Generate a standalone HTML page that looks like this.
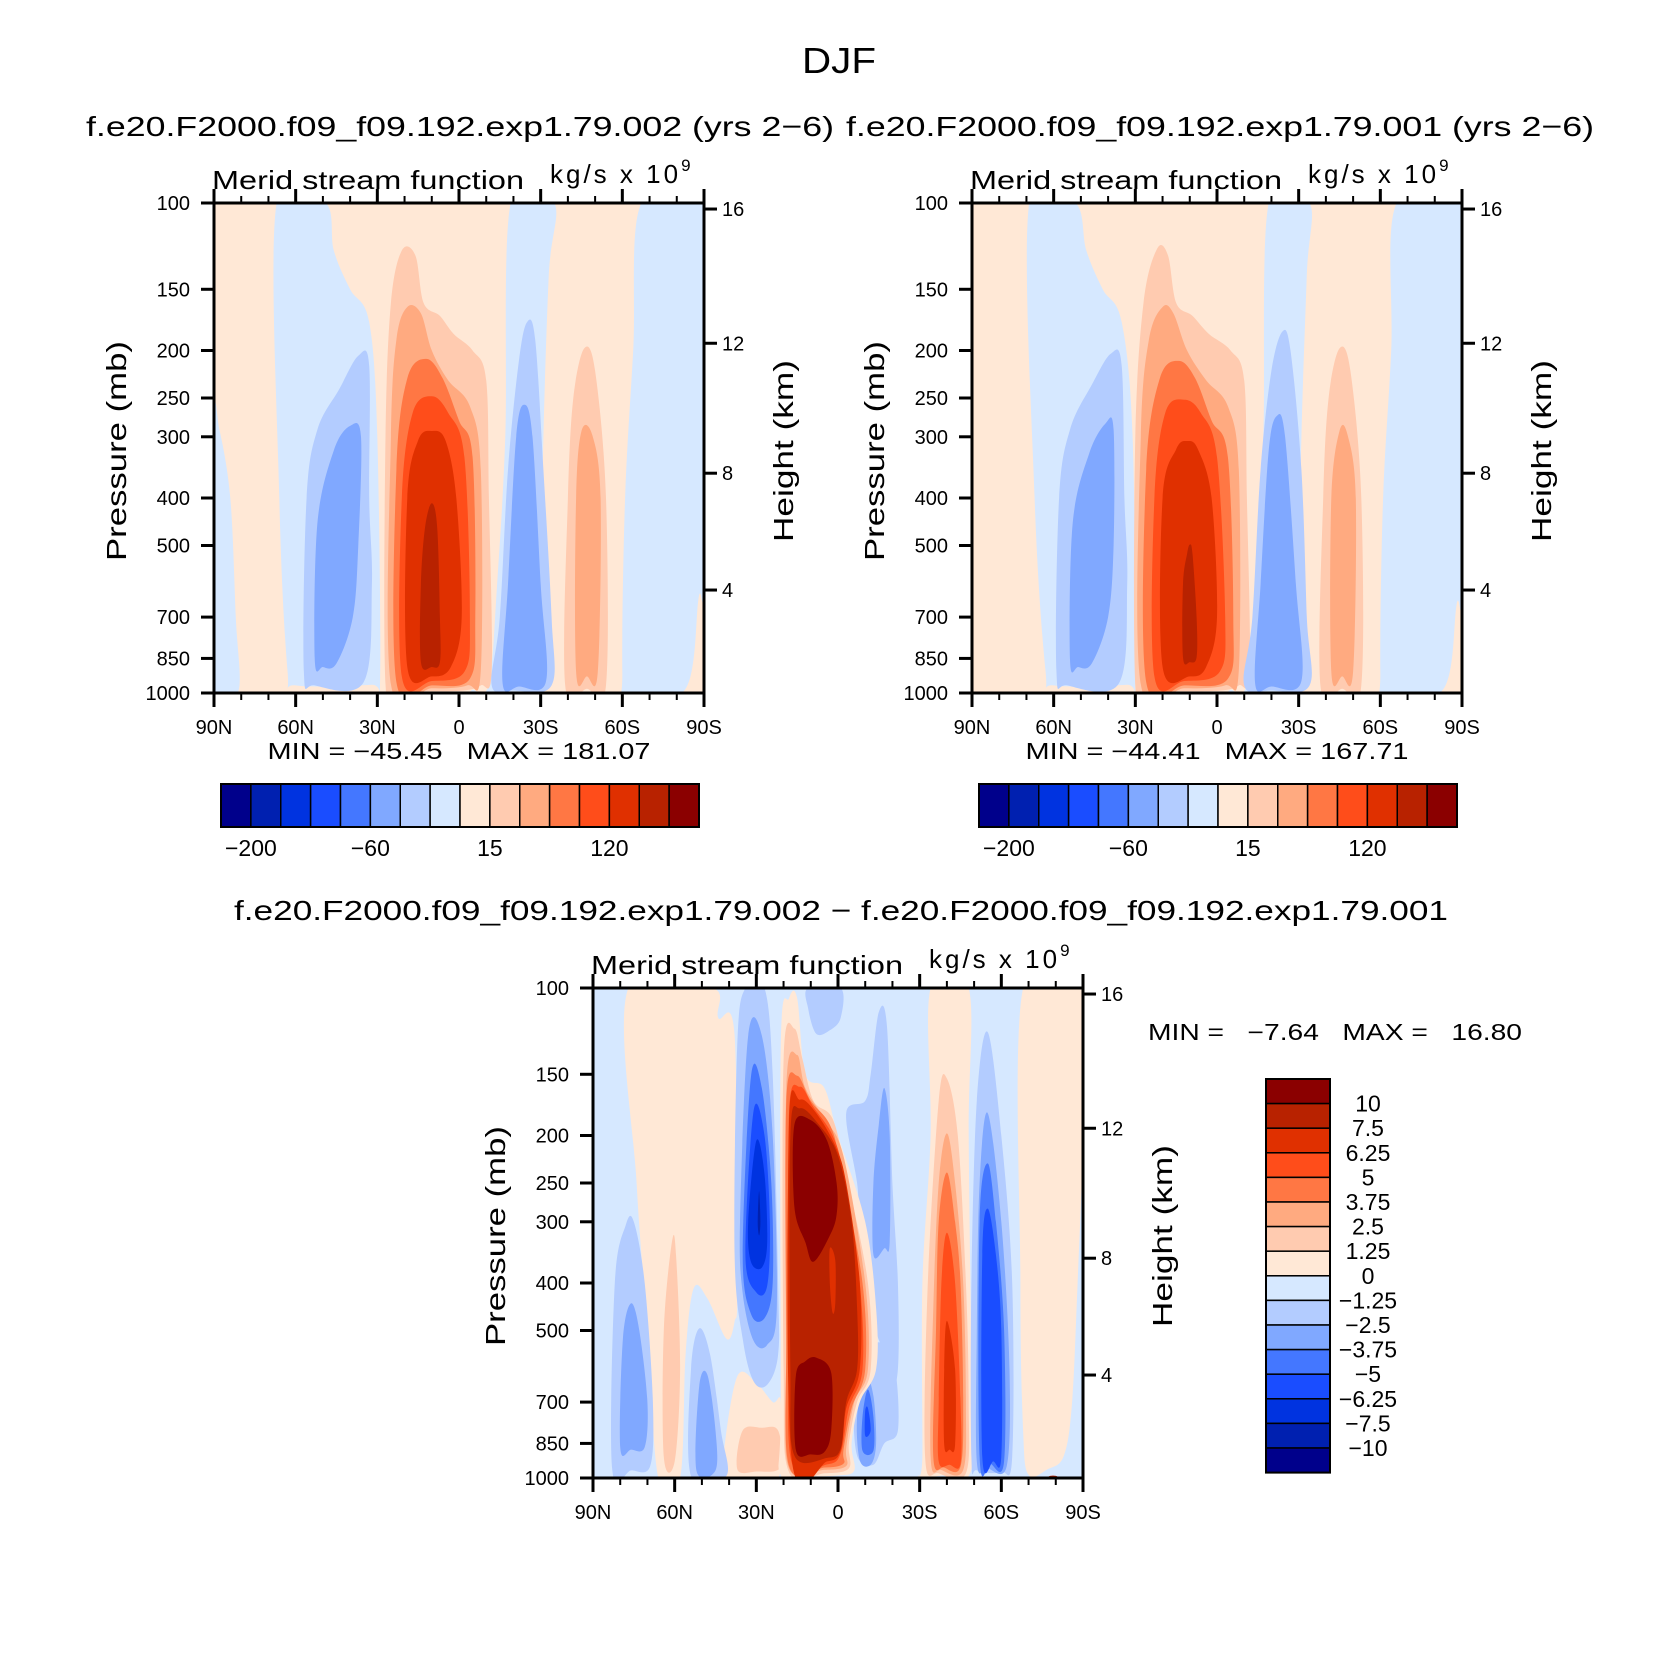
<!DOCTYPE html>
<html><head><meta charset="utf-8"><style>
html,body{margin:0;padding:0;background:#fff}
svg{display:block;font-family:"Liberation Sans",sans-serif}
</style></head><body>
<svg id="fig" width="1674" height="1677" viewBox="0 0 1674 1677" xmlns="http://www.w3.org/2000/svg">
<text x="839" y="73" font-size="36" text-anchor="middle" textLength="74" lengthAdjust="spacingAndGlyphs">DJF</text>
<text x="460" y="136" font-size="28" text-anchor="middle" textLength="748" lengthAdjust="spacingAndGlyphs">f.e20.F2000.f09_f09.192.exp1.79.002 (yrs 2−6)</text>
<text x="1220" y="136" font-size="28" text-anchor="middle" textLength="748" lengthAdjust="spacingAndGlyphs">f.e20.F2000.f09_f09.192.exp1.79.001 (yrs 2−6)</text>
<text x="841" y="920" font-size="28" text-anchor="middle" textLength="1214" lengthAdjust="spacingAndGlyphs">f.e20.F2000.f09_f09.192.exp1.79.002 − f.e20.F2000.f09_f09.192.exp1.79.001</text>
<g id="root"></g>
</svg>
<script>
const levelColors=["#00008b","#0020b0","#0033e0","#1a4dff","#4477ff","#80a8ff","#b3ccff","#d6e8ff","#ffe8d6","#ffcbb0","#ffaa80","#ff7744","#ff4d1a","#e03000","#b82200","#8b0000"];
const pressureTicks=[100,150,200,250,300,400,500,700,850,1000];
const heightTicks=[4,8,12,16];
const latTicks=[90,60,30,0,-30,-60,-90];
const latTickLabels=["90N","60N","30N","0","30S","60S","90S"];
const cbLabels12=["−200","−60","15","120"];
const cbLabelIdx12=[1,5,9,13];
const cbLabels3=["10","7.5","6.25","5","3.75","2.5","1.25","0","−1.25","−2.5","−3.75","−5","−6.25","−7.5","−10"];
const minMax1=["−45.45","181.07"];
const minMax2=["−44.41","167.71"];
const minMax3=["−7.64","16.80"];

const p1Shapes=[
{l:7,pts:[[67,100],[49,100],[46,125],[40,150],[33,175],[30,300],[29,940],[32,962],[60,965],[63,900],[66,400]]},
{l:7,pts:[[90,280],[88,290],[84,400],[82,700],[81,990],[90,1000]]},
{l:7,pts:[[-19,100],[-35,100],[-33,140],[-31,300],[-30,700],[-32,965],[-22,995],[-6,998],[-5,985],[-11,960],[-14,600],[-17,300]]},
{l:7,pts:[[-67,100],[-90,100],[-90,560],[-88,640],[-83,985],[-62,998],[-60,900],[-61,400],[-64,200]]},
{l:6,pts:[[57,900],[56,400],[52,290],[44,240],[37,205],[33,215],[33,400],[32,600],[35,950],[53,965]]},
{l:5,pts:[[53,850],[52,450],[46,320],[40,285],[36,300],[37,500],[39,700],[45,870],[50,885]]},
{l:9,pts:[[27,960],[27,300],[25,160],[21,125],[16,128],[13,160],[7,170],[2,185],[-5,200],[-10,230],[-11,400],[-12,900],[-8,965],[-2,988],[10,992],[22,988]]},
{l:10,pts:[[25,960],[25,300],[23,190],[19,163],[14,168],[10,200],[4,230],[-4,260],[-8,350],[-8,900],[-3,965],[10,978]]},
{l:11,pts:[[23,950],[23,350],[19,228],[12,208],[6,228],[0,278],[-5,330],[-6,700],[-4,935],[10,965]]},
{l:12,pts:[[21,925],[21,400],[17,268],[10,248],[4,268],[-2,330],[-4,700],[-2,905],[10,945]]},
{l:13,pts:[[19,885],[19,400],[15,305],[10,292],[5,305],[1,400],[-1,700],[3,885],[10,925]]},
{l:14,pts:[[14,865],[14,600],[12.5,460],[10,410],[8,460],[7,700],[7,865],[10,885]]},
{l:6,pts:[[-12,965],[-15,700],[-18,350],[-22,210],[-25,175],[-28,190],[-31,350],[-34,700],[-34,965],[-20,988]]},
{l:5,pts:[[-16,955],[-18,600],[-21,300],[-24,258],[-27,300],[-30,600],[-32,945],[-22,970]]},
{l:9,pts:[[-39,965],[-40,400],[-42,250],[-46,198],[-50,220],[-54,400],[-54,965],[-47,980]]},
{l:10,pts:[[-43,905],[-43,400],[-45,292],[-49,298],[-52,400],[-51,905],[-47,925]]}
];
const p2Shapes=[
{l:7,pts:[[69,100],[52,100],[48,125],[42,150],[35,175],[31,300],[30,940],[33,962],[60,965],[63,900],[67,400]]},
{l:7,pts:[[-19,100],[-34,100],[-33,140],[-31,300],[-30,700],[-32,965],[-22,995],[-6,998],[-5,985],[-11,960],[-14,600],[-17,300]]},
{l:7,pts:[[-66,100],[-90,100],[-90,580],[-88,660],[-83,985],[-62,998],[-60,900],[-61,400],[-64,200]]},
{l:6,pts:[[59,900],[58,400],[54,290],[46,235],[39,203],[35,215],[34,400],[33,600],[36,955],[55,965]]},
{l:5,pts:[[54,855],[53,450],[47,325],[41,282],[38,290],[38,500],[40,700],[46,870],[51,885]]},
{l:9,pts:[[30,965],[30,300],[27,160],[22,124],[18,128],[15,160],[9,170],[3,185],[-5,200],[-10,230],[-11,400],[-12,900],[-8,965],[-2,988],[12,992],[25,990]]},
{l:10,pts:[[28,960],[28,300],[25,190],[20,163],[16,168],[11,200],[4,230],[-4,260],[-8,350],[-8,900],[-3,965],[12,978]]},
{l:11,pts:[[26,950],[26,350],[21,228],[14,210],[8,228],[2,278],[-4,330],[-6,700],[-4,935],[12,965]]},
{l:12,pts:[[23,925],[23,400],[19,268],[12,252],[6,268],[0,330],[-3,700],[-1,905],[12,945]]},
{l:13,pts:[[20,885],[20,400],[15,318],[11,306],[7,318],[2,400],[0,700],[4,885],[10,925]]},
{l:14,pts:[[12.5,845],[12.5,600],[11,520],[10,498],[9,520],[7.5,700],[7.5,845],[10,865]]},
{l:6,pts:[[-10,965],[-13,700],[-16,350],[-20,220],[-24,183],[-27,200],[-31,350],[-33,700],[-34,965],[-20,988]]},
{l:5,pts:[[-14,955],[-16,600],[-19,320],[-22,272],[-25,300],[-29,600],[-31,945],[-20,970]]},
{l:9,pts:[[-38,965],[-39,400],[-41,250],[-45,198],[-49,220],[-53,400],[-53,965],[-46,980]]},
{l:10,pts:[[-42,905],[-42,400],[-45,292],[-48,298],[-51,400],[-50,905],[-46,925]]}
];
const p3Shapes=[
{l:8,pts:[[77,100],[46,100],[44,115],[38,125],[37,400],[38,480],[41,520],[48,430],[53,410],[56,560],[58,1000],[66,1000],[70,500],[74,250]]},
{l:8,pts:[[37,620],[30,640],[24,700],[21,700],[22,1000],[40,1000],[42,900]]},
{l:9,pts:[[35,800],[28,790],[22,800],[21,950],[30,970],[37,960]]},
{l:6,pts:[[83,955],[82,400],[78,305],[75,300],[71,400],[68,700],[69,945],[76,965]]},
{l:5,pts:[[80,865],[79,520],[76,440],[73,500],[70,700],[71,865],[76,875]]},
{l:9,pts:[[64,905],[64,500],[61,330],[59.5,350],[58,600],[60,925]]},
{l:6,pts:[[54,990],[54,600],[51,495],[47,560],[43,800],[41,990]]},
{l:5,pts:[[52,965],[51,650],[48,615],[45,800],[45,965]]},
{l:6,pts:[[38,350],[37,130],[34,100],[27,100],[24,150],[22,400],[22,560],[26,645],[31,635],[35,520]]},
{l:5,pts:[[36,300],[33,125],[28,125],[24,200],[22.5,450],[26,535],[31,525],[35,420]]},
{l:4,pts:[[35,350],[32,152],[28,160],[24.5,250],[24,400],[27,472],[32,462]]},
{l:3,pts:[[34,350],[31,178],[27,200],[25,300],[26,405],[30,418]]},
{l:2,pts:[[33,300],[30,205],[27,240],[26,330],[28,372],[32,362]]},
{l:1,pts:[[29.5,300],[29,260],[28.5,300],[29,320]]},
{l:6,pts:[[11,100],[-1,100],[-1,115],[3,122],[8,124],[11,110]]},
{l:6,pts:[[-7,250],[-3,180],[-10,170],[-12,150],[-15,112],[-18,120],[-20,250],[-22,400],[-22,600],[-19,680],[-17,560],[-14,500],[-12,400],[-8,300]]},
{l:5,pts:[[-13,350],[-13,250],[-15,190],[-17,160],[-19,200],[-19,330],[-17,340]]},
{l:6,pts:[[-7,900],[-6,700],[-10,560],[-16,530],[-21,600],[-22,800],[-17,850],[-13,940]]},
{l:5,pts:[[-8,920],[-7,750],[-10,620],[-13,680],[-14,850],[-12,940]]},
{l:4,pts:[[-9,880],[-9,750],[-11,660],[-13,750],[-13,880]]},
{l:3,pts:[[-10,820],[-10,730],[-11,720],[-12,800]]},
{l:8,pts:[[21,130],[18,105],[15,105],[12,150],[5,160],[0,200],[-10,300],[-14,450],[-14,600],[-8,700],[-5,850],[-6,965],[0,988],[10,992],[21,988],[21,700]]},
{l:9,pts:[[20,140],[16,121],[13,140],[9,170],[2,185],[-3,240],[-11,400],[-12,600],[-7,700],[-4,850],[-4,955],[5,978],[18,972],[20,600]]},
{l:10,pts:[[19,160],[15,137],[12,160],[5,185],[-2,220],[-10,400],[-11,600],[-6,700],[-3,870],[-3,945],[5,962],[18,955],[19,600]]},
{l:11,pts:[[19,170],[15,151],[10,170],[3,190],[-1,230],[-9,400],[-10,600],[-5,720],[-2,880],[-2,935],[5,952],[18,945],[19,500]]},
{l:12,pts:[[18,180],[14,159],[9,175],[2,200],[-2,240],[-8,400],[-9,600],[-4,720],[-1,890],[4,938],[17,930],[18,500]]},
{l:13,pts:[[18,190],[14,169],[8,180],[1,210],[-3,250],[-8,400],[-8,600],[-3,720],[-1,880],[4,925],[17,915]]},
{l:14,pts:[[17.5,200],[14,176],[7,190],[0,220],[-5,300],[-7,450],[-7,600],[-3,700],[-1,870],[4,910],[16,900],[17.5,600]]},
{l:15,pts:[[16,190],[10,186],[4,205],[0.5,250],[0.5,290],[3,320],[9,362],[12,330],[16,280]]},
{l:15,pts:[[15.5,875],[15.5,620],[12,578],[8,568],[2.5,610],[2.5,800],[5,885],[10,895]]},
{l:13,pts:[[3,340],[1,360],[1,440],[2,460],[3,400]]},
{l:8,pts:[[-34,100],[-48,100],[-48,200],[-49,600],[-49,960],[-40,985],[-30,990],[-31,900],[-31,400],[-34,200]]},
{l:9,pts:[[-40,153],[-37,170],[-33,400],[-32,905],[-37,978],[-47,978],[-48,700],[-47,400],[-44,200]]},
{l:10,pts:[[-40,198],[-37,250],[-35,450],[-34,905],[-38,963],[-46,963],[-47,700],[-46,400],[-43,250]]},
{l:11,pts:[[-40,238],[-37,300],[-36,500],[-35,905],[-39,952],[-45,948],[-46,700],[-45,400],[-43,300]]},
{l:12,pts:[[-40,316],[-38,400],[-37,700],[-37,925],[-41,940],[-45,935],[-45,700],[-43,400]]},
{l:13,pts:[[-40,478],[-39,600],[-39,855],[-41,875],[-43,855],[-43,600]]},
{l:6,pts:[[-55,123],[-51,170],[-49,400],[-49,905],[-51,965],[-60,972],[-64,905],[-64,400],[-60,200]]},
{l:5,pts:[[-55,180],[-52,250],[-51,500],[-51,925],[-55,955],[-62,945],[-63,600],[-60,300]]},
{l:4,pts:[[-55,228],[-52,300],[-52,905],[-56,935],[-61,925],[-61,500],[-58,300]]},
{l:3,pts:[[-55,282],[-53,350],[-53,905],[-57,925],[-60,905],[-60,500],[-58,350]]},
{l:8,pts:[[-68,100],[-90,100],[-90,200],[-88,400],[-86,700],[-83,900],[-77,960],[-70,985],[-68,800],[-67,400]]},
{l:14,pts:[[-77,1000],[-78,990],[-80,990],[-81,1000]]}
];

const NS="http://www.w3.org/2000/svg";
const root=document.getElementById('root');
function mk(tag,attrs,parent){const e=document.createElementNS(NS,tag);for(const k in attrs)e.setAttribute(k,attrs[k]);(parent||root).appendChild(e);return e;}
function stdP(z){const m=z*1000;if(m<=11000)return 1013.25*Math.pow(1-2.25577e-5*m,5.25588);return 226.32*Math.exp(-(m-11000)/6341.6);}
function smoothPath(pts){const n=pts.length;let d="M"+pts[0][0].toFixed(1)+","+pts[0][1].toFixed(1);
 for(let i=0;i<n;i++){const p0=pts[(i-1+n)%n],p1=pts[i],p2=pts[(i+1)%n],p3=pts[(i+2)%n];
  const c1=[p1[0]+(p2[0]-p0[0])/6,p1[1]+(p2[1]-p0[1])/6],c2=[p2[0]-(p3[0]-p1[0])/6,p2[1]-(p3[1]-p1[1])/6];
  d+="C"+c1[0].toFixed(1)+","+c1[1].toFixed(1)+" "+c2[0].toFixed(1)+","+c2[1].toFixed(1)+" "+p2[0].toFixed(1)+","+p2[1].toFixed(1);}
 return d+"Z";}

function panel(id,x0,y0,shapes,bg,mm,hbar){
 const W=490,H=490;
 const xS=lat=>x0+(90-lat)/180*W;
 const yS=p=>y0+Math.log10(p/100)*H;
 const g=mk('g',{});
 
 
 const cp=mk('clipPath',{id:id+'clip'},g);mk('rect',{x:x0,y:y0,width:W,height:H},cp);
 const pg=mk('g',{'clip-path':'url(#'+id+'clip)'},g);
 const bgr=mk('rect',{x:x0,y:y0,width:W,height:H,fill:levelColors[bg]},pg);
 
 
 shapes.forEach((s,i)=>{const pts=s.pts.map(q=>[xS(q[0]),yS(q[1])]);
  const e=mk('path',{d:smoothPath(pts),fill:levelColors[s.l]},pg);
  
  });
 const fr=mk('rect',{x:x0,y:y0,width:W,height:H,fill:'none',stroke:'#000','stroke-width':3},g);
 
 
 for(let lat=90;lat>=-90;lat-=10){const x=xS(lat);const maj=lat%30===0;const L=maj?14:7;
  mk('line',{x1:x,y1:y0,x2:x,y2:y0-L,stroke:'#000','stroke-width':maj?3:2},g);
  mk('line',{x1:x,y1:y0+H,x2:x,y2:y0+H+L,stroke:'#000','stroke-width':maj?3:2},g);}
 latTicks.forEach((lat,i)=>{const t=mk('text',{x:xS(lat),y:y0+H+41,'font-size':20,'text-anchor':'middle'},g);t.textContent=latTickLabels[i];
  
  });
 pressureTicks.forEach(p=>{const y=yS(p);mk('line',{x1:x0,y1:y,x2:x0-13,y2:y,stroke:'#000','stroke-width':3},g);
  const t=mk('text',{x:x0-24,y:y+7,'font-size':20,'text-anchor':'end'},g);t.textContent=p;
  
  });
 heightTicks.forEach(z=>{const y=yS(stdP(z));mk('line',{x1:x0+W,y1:y,x2:x0+W+13,y2:y,stroke:'#000','stroke-width':3},g);
  const t=mk('text',{x:x0+W+18,y:y+7,'font-size':20},g);t.textContent=z;
  
  });
 let t=mk('text',{x:x0-2,y:y0-14,'font-size':26,textLength:312,lengthAdjust:'spacingAndGlyphs'},g);t.textContent='Merid stream function';
 
 
 t=mk('text',{x:x0+336,y:y0-20,'font-size':26,'letter-spacing':'3'},g);t.innerHTML='kg/s x 10<tspan font-size="17" dy="-12">9</tspan>';
 
 
 t=mk('text',{x:0,y:0,'font-size':28,'text-anchor':'middle',textLength:220,lengthAdjust:'spacingAndGlyphs',transform:`translate(${x0-88},${y0+248}) rotate(-90)`},g);t.textContent='Pressure (mb)';
 
 
 t=mk('text',{x:0,y:0,'font-size':28,'text-anchor':'middle',textLength:182,lengthAdjust:'spacingAndGlyphs',transform:`translate(${x0+W+89},${y0+248}) rotate(-90)`},g);t.textContent='Height (km)';
 
 
 if(!hbar){
  t=mk('text',{x:x0+245,y:y0+H+66,'font-size':23,'text-anchor':'middle',textLength:383,lengthAdjust:'spacingAndGlyphs'},g);
  t.textContent='MIN = '+mm[0]+'   MAX = '+mm[1];t.style.whiteSpace='pre';
  
  
  const cx=x0+7,cy=y0+H+91,bw=478/16;
  levelColors.forEach((c,i)=>{const r=mk('rect',{x:cx+i*bw,y:cy,width:bw,height:43,fill:c,stroke:'#000','stroke-width':1.5},g);
   
   });
  mk('rect',{x:cx,y:cy,width:478,height:43,fill:'none',stroke:'#000','stroke-width':2},g);
  cbLabels12.forEach((s,i)=>{const tt=mk('text',{x:cx+cbLabelIdx12[i]*bw,y:cy+72,'font-size':23,'text-anchor':'middle'},g);tt.textContent=s;
   
   });
 } else {
  t=mk('text',{x:1148,y:1040,'font-size':23,textLength:374,lengthAdjust:'spacingAndGlyphs'},g);
  t.textContent='MIN =   '+mm[0]+'   MAX =   '+mm[1];t.style.whiteSpace='pre';
  
  
  const cx=1266,cy=1079,bh=24.6;
  for(let i=0;i<16;i++){const r=mk('rect',{x:cx,y:cy+i*bh,width:64,height:bh,fill:levelColors[15-i],stroke:'#000','stroke-width':1.5},g);
   
   }
  mk('rect',{x:cx,y:cy,width:64,height:16*bh,fill:'none',stroke:'#000','stroke-width':2},g);
  cbLabels3.forEach((s,i)=>{const tt=mk('text',{x:1368,y:cy+(i+1)*bh+8,'font-size':23,'text-anchor':'middle'},g);tt.textContent=s;
   
   });
 }
}
panel('p1',214,203,p1Shapes,8,minMax1,false);
panel('p2',972,203,p2Shapes,8,minMax2,false);
panel('p3',593,988,p3Shapes,7,minMax3,true);
</script>
</body></html>
